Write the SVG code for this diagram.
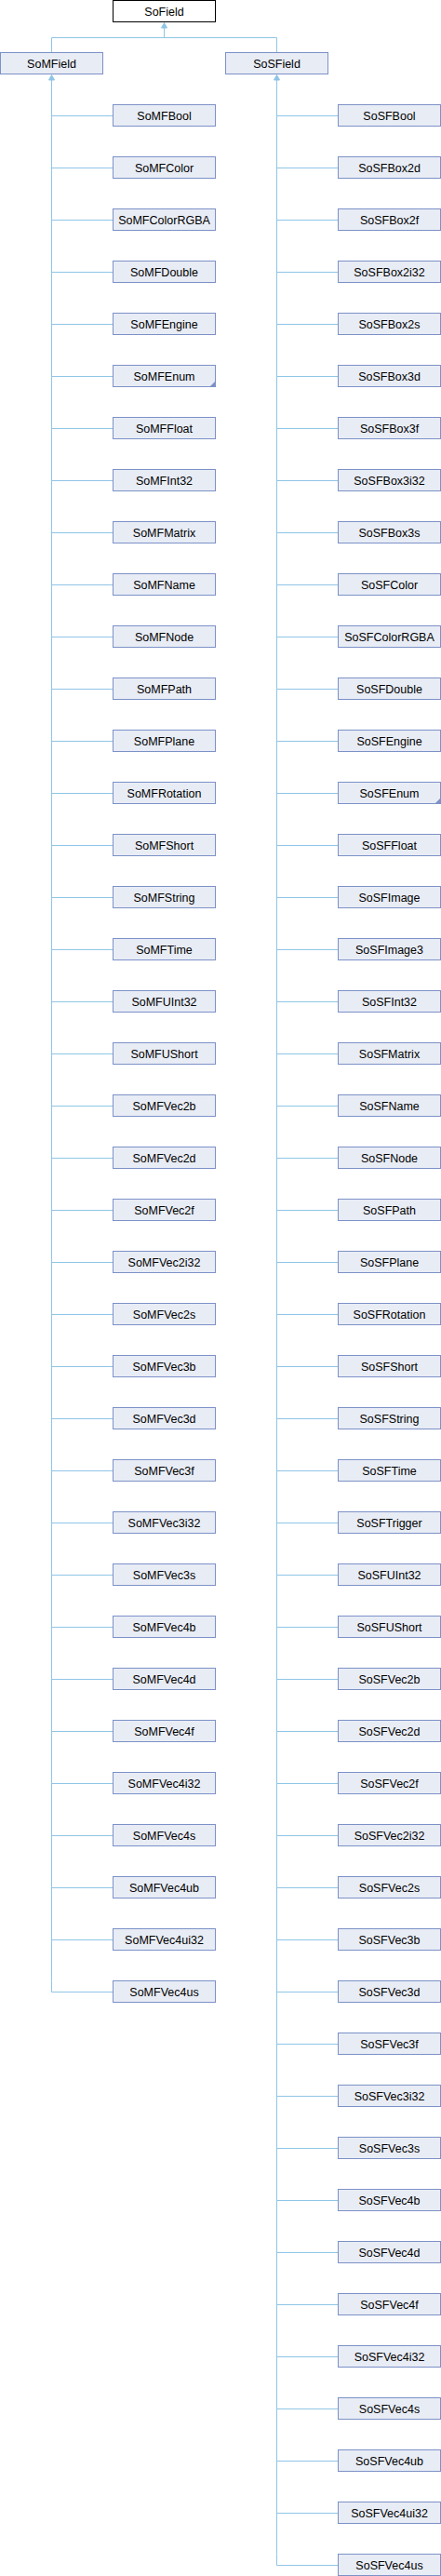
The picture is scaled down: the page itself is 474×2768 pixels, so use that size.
<svg xmlns="http://www.w3.org/2000/svg" width="474" height="2768" viewBox="0 0 474 2768">
<style>
.node rect{fill:#e8ecf5;stroke:#7c91c7;stroke-width:1}
.root rect{fill:#ffffff;stroke:#000000;stroke-width:1}
text{font-family:"Liberation Sans",Arial,sans-serif;font-size:12.5px;fill:#000000;text-anchor:middle}
.edge{fill:none;stroke:#8fc5e6;stroke-width:1}
.arrow{fill:#8fc5e6;stroke:#8fc5e6;stroke-width:1}
.mark{fill:#7c91c7}
</style>
<rect width="474" height="2768" fill="#ffffff"/>
<g id="connectors">
<path class="edge" d="M176.5 30V40.5M55.5 40.5H297.5M55.5 40.5V56.5M297.5 40.5V56.5"/>
<polygon class="arrow" points="176.5,24.5 173.5,30 179.5,30"/>
<path class="edge" d="M55.5 86V2128.5M297.5 86V2744.5"/>
<polygon class="arrow" points="55.5,80.5 52.5,86 58.5,86"/>
<polygon class="arrow" points="297.5,80.5 294.5,86 300.5,86"/>
<path class="edge" d="M55.5 124.5H121.5M55.5 180.5H121.5M55.5 236.5H121.5M55.5 292.5H121.5M55.5 348.5H121.5M55.5 404.5H121.5M55.5 460.5H121.5M55.5 516.5H121.5M55.5 572.5H121.5M55.5 628.5H121.5M55.5 684.5H121.5M55.5 740.5H121.5M55.5 796.5H121.5M55.5 852.5H121.5M55.5 908.5H121.5M55.5 964.5H121.5M55.5 1020.5H121.5M55.5 1076.5H121.5M55.5 1132.5H121.5M55.5 1188.5H121.5M55.5 1244.5H121.5M55.5 1300.5H121.5M55.5 1356.5H121.5M55.5 1412.5H121.5M55.5 1468.5H121.5M55.5 1524.5H121.5M55.5 1580.5H121.5M55.5 1636.5H121.5M55.5 1692.5H121.5M55.5 1748.5H121.5M55.5 1804.5H121.5M55.5 1860.5H121.5M55.5 1916.5H121.5M55.5 1972.5H121.5M55.5 2028.5H121.5M55.5 2084.5H121.5M55.5 2140.5H121.5"/>
<path class="edge" d="M297.5 124.5H363.5M297.5 180.5H363.5M297.5 236.5H363.5M297.5 292.5H363.5M297.5 348.5H363.5M297.5 404.5H363.5M297.5 460.5H363.5M297.5 516.5H363.5M297.5 572.5H363.5M297.5 628.5H363.5M297.5 684.5H363.5M297.5 740.5H363.5M297.5 796.5H363.5M297.5 852.5H363.5M297.5 908.5H363.5M297.5 964.5H363.5M297.5 1020.5H363.5M297.5 1076.5H363.5M297.5 1132.5H363.5M297.5 1188.5H363.5M297.5 1244.5H363.5M297.5 1300.5H363.5M297.5 1356.5H363.5M297.5 1412.5H363.5M297.5 1468.5H363.5M297.5 1524.5H363.5M297.5 1580.5H363.5M297.5 1636.5H363.5M297.5 1692.5H363.5M297.5 1748.5H363.5M297.5 1804.5H363.5M297.5 1860.5H363.5M297.5 1916.5H363.5M297.5 1972.5H363.5M297.5 2028.5H363.5M297.5 2084.5H363.5M297.5 2140.5H363.5M297.5 2196.5H363.5M297.5 2252.5H363.5M297.5 2308.5H363.5M297.5 2364.5H363.5M297.5 2420.5H363.5M297.5 2476.5H363.5M297.5 2532.5H363.5M297.5 2588.5H363.5M297.5 2644.5H363.5M297.5 2700.5H363.5M297.5 2756.5H363.5"/>
<path class="edge" d="M55.5 2128.5V2140.5M297.5 2744.5V2756.5"/>
</g>
<g id="SoField" class="root" transform="translate(121.5,0.5)"><rect width="110" height="23"/><text x="55" y="16">SoField</text></g>
<g id="SoMField" class="node" transform="translate(0.5,56.5)"><rect width="110" height="23"/><text x="55" y="16">SoMField</text></g>
<g id="SoSField" class="node" transform="translate(242.5,56.5)"><rect width="110" height="23"/><text x="55" y="16">SoSField</text></g>
<g id="SoMFBool" class="node" transform="translate(121.5,112.5)"><rect width="110" height="23"/><text x="55" y="16">SoMFBool</text></g>
<g id="SoMFColor" class="node" transform="translate(121.5,168.5)"><rect width="110" height="23"/><text x="55" y="16">SoMFColor</text></g>
<g id="SoMFColorRGBA" class="node" transform="translate(121.5,224.5)"><rect width="110" height="23"/><text x="55" y="16">SoMFColorRGBA</text></g>
<g id="SoMFDouble" class="node" transform="translate(121.5,280.5)"><rect width="110" height="23"/><text x="55" y="16">SoMFDouble</text></g>
<g id="SoMFEngine" class="node" transform="translate(121.5,336.5)"><rect width="110" height="23"/><text x="55" y="16">SoMFEngine</text></g>
<g id="SoMFEnum" class="node" transform="translate(121.5,392.5)"><rect width="110" height="23"/><text x="55" y="16">SoMFEnum</text><polygon class="mark" points="110,17 110,23 104,23"/></g>
<g id="SoMFFloat" class="node" transform="translate(121.5,448.5)"><rect width="110" height="23"/><text x="55" y="16">SoMFFloat</text></g>
<g id="SoMFInt32" class="node" transform="translate(121.5,504.5)"><rect width="110" height="23"/><text x="55" y="16">SoMFInt32</text></g>
<g id="SoMFMatrix" class="node" transform="translate(121.5,560.5)"><rect width="110" height="23"/><text x="55" y="16">SoMFMatrix</text></g>
<g id="SoMFName" class="node" transform="translate(121.5,616.5)"><rect width="110" height="23"/><text x="55" y="16">SoMFName</text></g>
<g id="SoMFNode" class="node" transform="translate(121.5,672.5)"><rect width="110" height="23"/><text x="55" y="16">SoMFNode</text></g>
<g id="SoMFPath" class="node" transform="translate(121.5,728.5)"><rect width="110" height="23"/><text x="55" y="16">SoMFPath</text></g>
<g id="SoMFPlane" class="node" transform="translate(121.5,784.5)"><rect width="110" height="23"/><text x="55" y="16">SoMFPlane</text></g>
<g id="SoMFRotation" class="node" transform="translate(121.5,840.5)"><rect width="110" height="23"/><text x="55" y="16">SoMFRotation</text></g>
<g id="SoMFShort" class="node" transform="translate(121.5,896.5)"><rect width="110" height="23"/><text x="55" y="16">SoMFShort</text></g>
<g id="SoMFString" class="node" transform="translate(121.5,952.5)"><rect width="110" height="23"/><text x="55" y="16">SoMFString</text></g>
<g id="SoMFTime" class="node" transform="translate(121.5,1008.5)"><rect width="110" height="23"/><text x="55" y="16">SoMFTime</text></g>
<g id="SoMFUInt32" class="node" transform="translate(121.5,1064.5)"><rect width="110" height="23"/><text x="55" y="16">SoMFUInt32</text></g>
<g id="SoMFUShort" class="node" transform="translate(121.5,1120.5)"><rect width="110" height="23"/><text x="55" y="16">SoMFUShort</text></g>
<g id="SoMFVec2b" class="node" transform="translate(121.5,1176.5)"><rect width="110" height="23"/><text x="55" y="16">SoMFVec2b</text></g>
<g id="SoMFVec2d" class="node" transform="translate(121.5,1232.5)"><rect width="110" height="23"/><text x="55" y="16">SoMFVec2d</text></g>
<g id="SoMFVec2f" class="node" transform="translate(121.5,1288.5)"><rect width="110" height="23"/><text x="55" y="16">SoMFVec2f</text></g>
<g id="SoMFVec2i32" class="node" transform="translate(121.5,1344.5)"><rect width="110" height="23"/><text x="55" y="16">SoMFVec2i32</text></g>
<g id="SoMFVec2s" class="node" transform="translate(121.5,1400.5)"><rect width="110" height="23"/><text x="55" y="16">SoMFVec2s</text></g>
<g id="SoMFVec3b" class="node" transform="translate(121.5,1456.5)"><rect width="110" height="23"/><text x="55" y="16">SoMFVec3b</text></g>
<g id="SoMFVec3d" class="node" transform="translate(121.5,1512.5)"><rect width="110" height="23"/><text x="55" y="16">SoMFVec3d</text></g>
<g id="SoMFVec3f" class="node" transform="translate(121.5,1568.5)"><rect width="110" height="23"/><text x="55" y="16">SoMFVec3f</text></g>
<g id="SoMFVec3i32" class="node" transform="translate(121.5,1624.5)"><rect width="110" height="23"/><text x="55" y="16">SoMFVec3i32</text></g>
<g id="SoMFVec3s" class="node" transform="translate(121.5,1680.5)"><rect width="110" height="23"/><text x="55" y="16">SoMFVec3s</text></g>
<g id="SoMFVec4b" class="node" transform="translate(121.5,1736.5)"><rect width="110" height="23"/><text x="55" y="16">SoMFVec4b</text></g>
<g id="SoMFVec4d" class="node" transform="translate(121.5,1792.5)"><rect width="110" height="23"/><text x="55" y="16">SoMFVec4d</text></g>
<g id="SoMFVec4f" class="node" transform="translate(121.5,1848.5)"><rect width="110" height="23"/><text x="55" y="16">SoMFVec4f</text></g>
<g id="SoMFVec4i32" class="node" transform="translate(121.5,1904.5)"><rect width="110" height="23"/><text x="55" y="16">SoMFVec4i32</text></g>
<g id="SoMFVec4s" class="node" transform="translate(121.5,1960.5)"><rect width="110" height="23"/><text x="55" y="16">SoMFVec4s</text></g>
<g id="SoMFVec4ub" class="node" transform="translate(121.5,2016.5)"><rect width="110" height="23"/><text x="55" y="16">SoMFVec4ub</text></g>
<g id="SoMFVec4ui32" class="node" transform="translate(121.5,2072.5)"><rect width="110" height="23"/><text x="55" y="16">SoMFVec4ui32</text></g>
<g id="SoMFVec4us" class="node" transform="translate(121.5,2128.5)"><rect width="110" height="23"/><text x="55" y="16">SoMFVec4us</text></g>
<g id="SoSFBool" class="node" transform="translate(363.5,112.5)"><rect width="110" height="23"/><text x="55" y="16">SoSFBool</text></g>
<g id="SoSFBox2d" class="node" transform="translate(363.5,168.5)"><rect width="110" height="23"/><text x="55" y="16">SoSFBox2d</text></g>
<g id="SoSFBox2f" class="node" transform="translate(363.5,224.5)"><rect width="110" height="23"/><text x="55" y="16">SoSFBox2f</text></g>
<g id="SoSFBox2i32" class="node" transform="translate(363.5,280.5)"><rect width="110" height="23"/><text x="55" y="16">SoSFBox2i32</text></g>
<g id="SoSFBox2s" class="node" transform="translate(363.5,336.5)"><rect width="110" height="23"/><text x="55" y="16">SoSFBox2s</text></g>
<g id="SoSFBox3d" class="node" transform="translate(363.5,392.5)"><rect width="110" height="23"/><text x="55" y="16">SoSFBox3d</text></g>
<g id="SoSFBox3f" class="node" transform="translate(363.5,448.5)"><rect width="110" height="23"/><text x="55" y="16">SoSFBox3f</text></g>
<g id="SoSFBox3i32" class="node" transform="translate(363.5,504.5)"><rect width="110" height="23"/><text x="55" y="16">SoSFBox3i32</text></g>
<g id="SoSFBox3s" class="node" transform="translate(363.5,560.5)"><rect width="110" height="23"/><text x="55" y="16">SoSFBox3s</text></g>
<g id="SoSFColor" class="node" transform="translate(363.5,616.5)"><rect width="110" height="23"/><text x="55" y="16">SoSFColor</text></g>
<g id="SoSFColorRGBA" class="node" transform="translate(363.5,672.5)"><rect width="110" height="23"/><text x="55" y="16">SoSFColorRGBA</text></g>
<g id="SoSFDouble" class="node" transform="translate(363.5,728.5)"><rect width="110" height="23"/><text x="55" y="16">SoSFDouble</text></g>
<g id="SoSFEngine" class="node" transform="translate(363.5,784.5)"><rect width="110" height="23"/><text x="55" y="16">SoSFEngine</text></g>
<g id="SoSFEnum" class="node" transform="translate(363.5,840.5)"><rect width="110" height="23"/><text x="55" y="16">SoSFEnum</text><polygon class="mark" points="110,17 110,23 104,23"/></g>
<g id="SoSFFloat" class="node" transform="translate(363.5,896.5)"><rect width="110" height="23"/><text x="55" y="16">SoSFFloat</text></g>
<g id="SoSFImage" class="node" transform="translate(363.5,952.5)"><rect width="110" height="23"/><text x="55" y="16">SoSFImage</text></g>
<g id="SoSFImage3" class="node" transform="translate(363.5,1008.5)"><rect width="110" height="23"/><text x="55" y="16">SoSFImage3</text></g>
<g id="SoSFInt32" class="node" transform="translate(363.5,1064.5)"><rect width="110" height="23"/><text x="55" y="16">SoSFInt32</text></g>
<g id="SoSFMatrix" class="node" transform="translate(363.5,1120.5)"><rect width="110" height="23"/><text x="55" y="16">SoSFMatrix</text></g>
<g id="SoSFName" class="node" transform="translate(363.5,1176.5)"><rect width="110" height="23"/><text x="55" y="16">SoSFName</text></g>
<g id="SoSFNode" class="node" transform="translate(363.5,1232.5)"><rect width="110" height="23"/><text x="55" y="16">SoSFNode</text></g>
<g id="SoSFPath" class="node" transform="translate(363.5,1288.5)"><rect width="110" height="23"/><text x="55" y="16">SoSFPath</text></g>
<g id="SoSFPlane" class="node" transform="translate(363.5,1344.5)"><rect width="110" height="23"/><text x="55" y="16">SoSFPlane</text></g>
<g id="SoSFRotation" class="node" transform="translate(363.5,1400.5)"><rect width="110" height="23"/><text x="55" y="16">SoSFRotation</text></g>
<g id="SoSFShort" class="node" transform="translate(363.5,1456.5)"><rect width="110" height="23"/><text x="55" y="16">SoSFShort</text></g>
<g id="SoSFString" class="node" transform="translate(363.5,1512.5)"><rect width="110" height="23"/><text x="55" y="16">SoSFString</text></g>
<g id="SoSFTime" class="node" transform="translate(363.5,1568.5)"><rect width="110" height="23"/><text x="55" y="16">SoSFTime</text></g>
<g id="SoSFTrigger" class="node" transform="translate(363.5,1624.5)"><rect width="110" height="23"/><text x="55" y="16">SoSFTrigger</text></g>
<g id="SoSFUInt32" class="node" transform="translate(363.5,1680.5)"><rect width="110" height="23"/><text x="55" y="16">SoSFUInt32</text></g>
<g id="SoSFUShort" class="node" transform="translate(363.5,1736.5)"><rect width="110" height="23"/><text x="55" y="16">SoSFUShort</text></g>
<g id="SoSFVec2b" class="node" transform="translate(363.5,1792.5)"><rect width="110" height="23"/><text x="55" y="16">SoSFVec2b</text></g>
<g id="SoSFVec2d" class="node" transform="translate(363.5,1848.5)"><rect width="110" height="23"/><text x="55" y="16">SoSFVec2d</text></g>
<g id="SoSFVec2f" class="node" transform="translate(363.5,1904.5)"><rect width="110" height="23"/><text x="55" y="16">SoSFVec2f</text></g>
<g id="SoSFVec2i32" class="node" transform="translate(363.5,1960.5)"><rect width="110" height="23"/><text x="55" y="16">SoSFVec2i32</text></g>
<g id="SoSFVec2s" class="node" transform="translate(363.5,2016.5)"><rect width="110" height="23"/><text x="55" y="16">SoSFVec2s</text></g>
<g id="SoSFVec3b" class="node" transform="translate(363.5,2072.5)"><rect width="110" height="23"/><text x="55" y="16">SoSFVec3b</text></g>
<g id="SoSFVec3d" class="node" transform="translate(363.5,2128.5)"><rect width="110" height="23"/><text x="55" y="16">SoSFVec3d</text></g>
<g id="SoSFVec3f" class="node" transform="translate(363.5,2184.5)"><rect width="110" height="23"/><text x="55" y="16">SoSFVec3f</text></g>
<g id="SoSFVec3i32" class="node" transform="translate(363.5,2240.5)"><rect width="110" height="23"/><text x="55" y="16">SoSFVec3i32</text></g>
<g id="SoSFVec3s" class="node" transform="translate(363.5,2296.5)"><rect width="110" height="23"/><text x="55" y="16">SoSFVec3s</text></g>
<g id="SoSFVec4b" class="node" transform="translate(363.5,2352.5)"><rect width="110" height="23"/><text x="55" y="16">SoSFVec4b</text></g>
<g id="SoSFVec4d" class="node" transform="translate(363.5,2408.5)"><rect width="110" height="23"/><text x="55" y="16">SoSFVec4d</text></g>
<g id="SoSFVec4f" class="node" transform="translate(363.5,2464.5)"><rect width="110" height="23"/><text x="55" y="16">SoSFVec4f</text></g>
<g id="SoSFVec4i32" class="node" transform="translate(363.5,2520.5)"><rect width="110" height="23"/><text x="55" y="16">SoSFVec4i32</text></g>
<g id="SoSFVec4s" class="node" transform="translate(363.5,2576.5)"><rect width="110" height="23"/><text x="55" y="16">SoSFVec4s</text></g>
<g id="SoSFVec4ub" class="node" transform="translate(363.5,2632.5)"><rect width="110" height="23"/><text x="55" y="16">SoSFVec4ub</text></g>
<g id="SoSFVec4ui32" class="node" transform="translate(363.5,2688.5)"><rect width="110" height="23"/><text x="55" y="16">SoSFVec4ui32</text></g>
<g id="SoSFVec4us" class="node" transform="translate(363.5,2744.5)"><rect width="110" height="23"/><text x="55" y="16">SoSFVec4us</text></g>
</svg>
